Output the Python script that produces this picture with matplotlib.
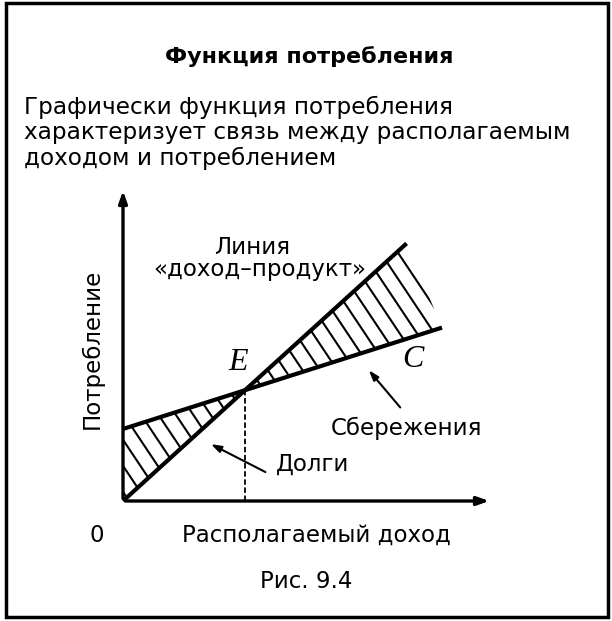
import matplotlib
matplotlib.use('Agg')
from matplotlib import pyplot as plt
from matplotlib.patches import Rectangle
import numpy as np

# data (income and consumption in arbitrary units)
income_45 = [0, 93]                 # line "доход-продукт": C = Y
income_c = [0, 40, 104.6]           # consumption function points
consumption = [26, 40, 62.6]
e_income = 40                       # equilibrium point E
x_max, y_max = 121, 113

plt.rcParams['font.family'] = ['DejaVu Sans']

W, H = 612, 621
fig = plt.figure(figsize=(W / 100, H / 100), dpi=100)
fig.patch.set_facecolor('white')


def fx(px):
    return px / W


def fy(py):
    return 1 - py / H


# axes placed so the origin sits where the reference draws it
ax = fig.add_axes([fx(123), fy(501), 369 / W, 313 / H])
ax.set_xlim(0, x_max)
ax.set_ylim(0, y_max)
ax.axis('off')

# axes with arrows
ax.annotate('', xy=(x_max, 0), xytext=(0, 0),
            arrowprops=dict(arrowstyle='-|>,head_length=0.7,head_width=0.25', lw=2.4, color='black'),
            annotation_clip=False)
ax.annotate('', xy=(0, y_max), xytext=(0, 0),
            arrowprops=dict(arrowstyle='-|>,head_length=0.7,head_width=0.25', lw=2.4, color='black'),
            annotation_clip=False)

# hatched areas: debts (left of E) and savings (right of E)
debt = ax.fill([income_c[0], income_c[1], income_45[0]], [consumption[0], consumption[1], income_45[0]],
               facecolor='none', linewidth=0)[0]
saving = ax.fill([e_income, income_45[1], income_c[2]], [e_income, income_45[1], consumption[2]],
                 facecolor='none', linewidth=0)[0]

# steep hatch lines, clipped to the two areas
steep = 1.65
for x0 in np.arange(2, 200, 5.7):
    xs = np.array([x0 - y_max / steep, x0])
    for area in (debt, saving):
        ln, = ax.plot(xs, -steep * (xs - x0), color='black', lw=1.5)
        ln.set_clip_path(area)

ax.plot(income_45, income_45, color='black', lw=3, solid_capstyle='butt', clip_on=False)
ax.plot(income_c, consumption, color='black', lw=3, solid_capstyle='butt', clip_on=False)
ax.plot([e_income, e_income], [0, e_income], color='black', lw=1.3, ls=(0, (3, 1.5)))

# labels on the chart
serif = dict(family=['Liberation Serif', 'DejaVu Serif'], style='italic', fontsize=23)
ax.text(37.7, 50, 'E', ha='center', va='center', **serif)
ax.text(95, 51, 'C', ha='center', va='center', **serif)

fs = 16.5
fig.text(fx(252), fy(247), 'Линия', ha='center', va='center', fontsize=fs)
fig.text(fx(260), fy(270), '«доход–продукт»', ha='center', va='center', fontsize=fs)
fig.text(fx(407), fy(428), 'Сбережения', ha='center', va='center', fontsize=fs)
fig.text(fx(313), fy(464), 'Долги', ha='center', va='center', fontsize=fs)

ax.annotate('', xy=(80, 48), xytext=(91.5, 33),
            arrowprops=dict(arrowstyle='-|>,head_length=0.6,head_width=0.2', lw=1.5, color='black'))
ax.annotate('', xy=(28, 21), xytext=(47.5, 10),
            arrowprops=dict(arrowstyle='-|>,head_length=0.6,head_width=0.2', lw=1.5, color='black'))

fig.text(fx(92), fy(349), 'Потребление', rotation=90, ha='center', va='center', fontsize=fs)
fig.text(fx(97), fy(535), '0', ha='center', va='center', fontsize=fs)
fig.text(fx(316), fy(535), 'Располагаемый доход', ha='center', va='center', fontsize=fs)
fig.text(fx(306), fy(581), 'Рис. 9.4', ha='center', va='center', fontsize=fs)

# header
fig.text(fx(309), fy(57), 'Функция потребления', ha='center', va='center', fontsize=16, fontweight='bold')
para = ['Графически функция потребления',
        'характеризует связь между располагаемым',
        'доходом и потреблением']
for i, line in enumerate(para):
    fig.text(fx(24), fy(107 + 25.5 * i), line, ha='left', va='center', fontsize=16.7)

# frame
fig.add_artist(Rectangle((fx(6), fy(617)), fx(602), 614 / H, transform=fig.transFigure,
                         fill=False, edgecolor='black', linewidth=2.5))

plt.savefig('out.png', dpi=100)
plt.clf()
